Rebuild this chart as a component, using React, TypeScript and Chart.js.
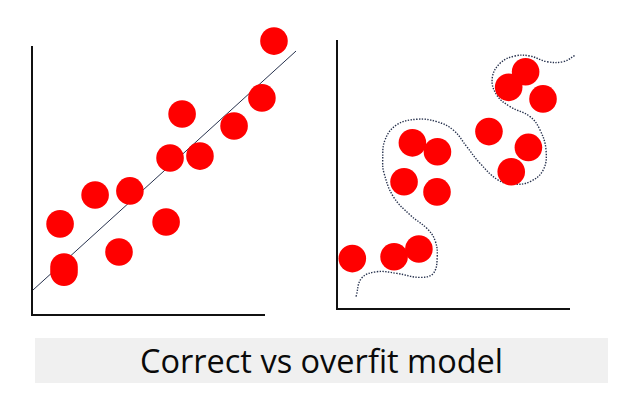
import React, { useEffect, useRef } from "react";
import { Chart, registerables } from "chart.js";

Chart.register(...registerables);

// Left panel: "correct" model — scattered points and a straight fit line
const leftDotsX = [10.43, 9.91, 6.47, 8.71, 5.95, 7.24, 4.22, 2.72, 1.21, 5.78, 3.75, 1.38, 1.38];
const leftDotsY = [10.22, 8.1, 7.5, 7.05, 5.86, 5.93, 4.63, 4.48, 3.4, 3.47, 2.35, 1.79, 1.6];
const fitLineX = [0.04, 11.38];
const fitLineY = [0.93, 9.85];

// Right panel: "overfit" model — points and a wiggly curve through them
const rightDotsX = [8.13, 7.4, 8.88, 6.55, 8.25, 7.51, 3.25, 4.33, 2.89, 4.31, 0.66, 2.46, 3.53];
const rightDotsY = [8.85, 8.27, 7.84, 6.62, 6.03, 5.12, 6.2, 5.87, 4.75, 4.37, 1.88, 1.95, 2.24];
const overfitX = [
  0.82, 1.06, 1.71, 2.57, 3.58, 4.15, 4.32, 4.22, 3.87, 3.15, 2.43, 2.03, 1.97, 2.07, 2.57,
  3.44, 4.3, 5.01, 5.59, 6.16, 6.95, 7.6, 8.32, 8.89, 9.01, 8.75, 8.32, 7.46, 6.88, 6.69,
  7.03, 7.67, 8.32, 9.04, 9.75, 10.3,
];
const overfitY = [
  0.46, 1.15, 1.39, 1.33, 1.18, 1.33, 1.95, 2.57, 3.01, 3.51, 4.19, 5.06, 5.56, 6.31, 6.87,
  7.08, 6.99, 6.68, 6.06, 5.44, 4.81, 4.66, 4.75, 5.19, 5.93, 6.68, 7.18, 7.55, 7.99, 8.61,
  9.17, 9.44, 9.44, 9.23, 9.23, 9.48,
];

const axisMin = [0];
const axisMax = [10];
const captionText = "Correct vs overfit model";

const W = 629;
const H = 400;

type Pad = { left: number; top: number; right: number; bottom: number };

function makePanel(
  canvas: HTMLCanvasElement,
  dx: number[],
  dy: number[],
  lx: number[],
  ly: number[],
  dashed: boolean,
  tension: number,
  padding: Pad
) {
  const scaleOpts = {
    type: "linear" as const,
    min: axisMin[0],
    max: axisMax[0],
    grid: { display: false, drawTicks: false },
    ticks: { display: false },
    border: { display: true, color: "#111111", width: 2 },
  };
  return new Chart(canvas, {
    type: "scatter",
    data: {
      datasets: [
        {
          data: dx.map((x, i) => ({ x, y: dy[i] })),
          backgroundColor: "#ff0000",
          borderWidth: 0,
          pointRadius: 13.8,
          pointHoverRadius: 13.8,
          clip: false as any,
          order: 0,
        },
        {
          data: lx.map((x, i) => ({ x, y: ly[i] })),
          showLine: true,
          borderColor: "#26314d",
          borderWidth: dashed ? 1.4 : 1,
          borderDash: dashed ? [1.4, 1.4] : [],
          tension,
          pointRadius: 0,
          clip: false as any,
          order: 1,
        },
      ],
    },
    options: {
      responsive: false,
      animation: false,
      events: [],
      layout: { padding },
      plugins: { legend: { display: false }, tooltip: { enabled: false } },
      scales: { x: { ...scaleOpts, position: "bottom" }, y: { ...scaleOpts, position: "left" } },
    },
  });
}

export default function App() {
  const leftRef = useRef<HTMLCanvasElement>(null);
  const rightRef = useRef<HTMLCanvasElement>(null);

  useEffect(() => {
    const c1 = makePanel(leftRef.current!, leftDotsX, leftDotsY, fitLineX, fitLineY, false, 0, {
      left: 32,
      top: 47,
      right: W - 264,
      bottom: H - 315,
    });
    const c2 = makePanel(rightRef.current!, rightDotsX, rightDotsY, overfitX, overfitY, true, 0.4, {
      left: 337,
      top: 41,
      right: W - 569,
      bottom: H - 309,
    });
    return () => {
      c1.destroy();
      c2.destroy();
    };
  }, []);

  const canvasStyle: React.CSSProperties = {
    position: "absolute",
    left: 0,
    top: 0,
    width: W,
    height: H,
  };

  return (
    <div style={{ position: "fixed", left: 0, top: 0, width: W, height: H, background: "#ffffff", overflow: "hidden" }}>
      <div
        style={{
          position: "absolute",
          left: 35,
          top: 338,
          width: 573,
          height: 45,
          background: "#f0f0f0",
          color: "#0a0a0a",
          fontFamily: "'Open Sans', 'Noto Sans', sans-serif",
          fontSize: 32.5,
          lineHeight: "45px",
          textAlign: "center",
          whiteSpace: "nowrap",
        }}
      >
        {captionText}
      </div>
      <canvas ref={leftRef} width={W} height={H} style={canvasStyle} />
      <canvas ref={rightRef} width={W} height={H} style={canvasStyle} />
    </div>
  );
}
